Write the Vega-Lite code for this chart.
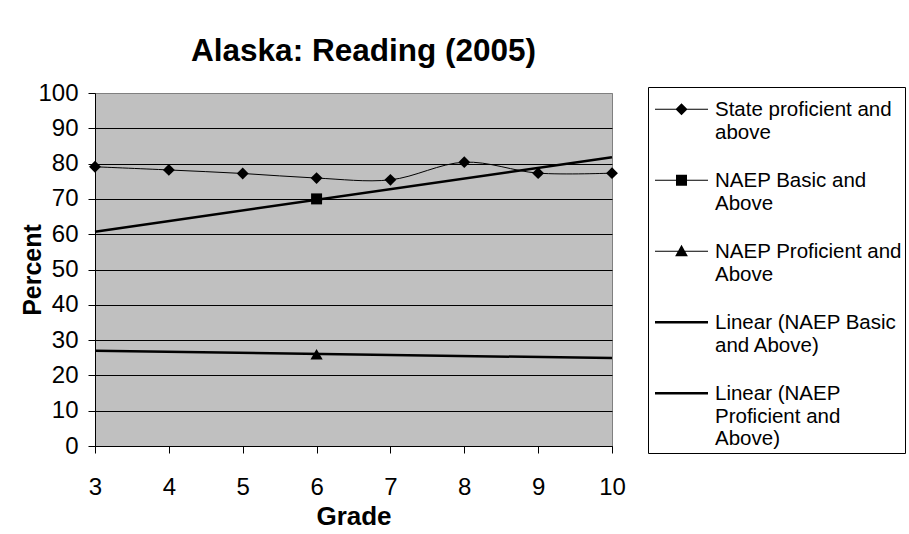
{
  "$schema": "https://vega.github.io/schema/vega-lite/v6.json",
  "width": 517,
  "height": 353,
  "autosize": {"type": "none"},
  "padding": {"left": 95, "top": 93, "right": 297, "bottom": 88},
  "background": "white",
  "title": {
    "text": "Alaska: Reading (2005)",
    "anchor": "middle",
    "frame": "group",
    "dx": 10,
    "offset": -11,
    "baseline": "alphabetic",
    "font": "Liberation Sans",
    "fontSize": 31.5,
    "fontWeight": "bold",
    "color": "black"
  },
  "config": {
    "view": {"fill": "#C0C0C0", "stroke": "#808080", "strokeWidth": 1},
    "axis": {
      "labelFont": "Liberation Sans",
      "labelFontSize": 24,
      "labelColor": "black",
      "titleFont": "Liberation Sans",
      "titleFontSize": 26,
      "titleFontWeight": "bold",
      "titleColor": "black",
      "domainColor": "black",
      "domainWidth": 1,
      "tickColor": "black",
      "tickSize": 7,
      "tickWidth": 1
    }
  },
  "data": {
    "values": [
      {"series": "State proficient and above", "grade": 3, "value": 79.1},
      {"series": "State proficient and above", "grade": 4, "value": 78.2},
      {"series": "State proficient and above", "grade": 5, "value": 77.2},
      {"series": "State proficient and above", "grade": 6, "value": 75.9},
      {"series": "State proficient and above", "grade": 7, "value": 75.4},
      {"series": "State proficient and above", "grade": 8, "value": 80.4},
      {"series": "State proficient and above", "grade": 9, "value": 77.3},
      {"series": "State proficient and above", "grade": 10, "value": 77.3},
      {"series": "NAEP Basic and Above", "grade": 6, "value": 70},
      {"series": "NAEP Proficient and Above", "grade": 6, "value": 26},
      {"series": "Linear (NAEP Basic and Above)", "grade": 3, "value": 60.7},
      {"series": "Linear (NAEP Basic and Above)", "grade": 10, "value": 81.8},
      {"series": "Linear (NAEP Proficient and Above)", "grade": 3, "value": 27.0},
      {"series": "Linear (NAEP Proficient and Above)", "grade": 10, "value": 24.9}
    ]
  },
  "encoding": {
    "x": {
      "field": "grade",
      "type": "quantitative",
      "scale": {"domain": [3, 10], "nice": false, "zero": false},
      "axis": {
        "title": "Grade",
        "values": [3, 4, 5, 6, 7, 8, 9, 10],
        "format": "d",
        "grid": false,
        "labelPadding": 22,
        "titlePadding": 4,
        "labelFlush": false
      }
    },
    "y": {
      "field": "value",
      "type": "quantitative",
      "scale": {"domain": [0, 100], "nice": false},
      "axis": {
        "title": "Percent",
        "values": [0, 10, 20, 30, 40, 50, 60, 70, 80, 90, 100],
        "grid": true,
        "gridColor": {"condition": {"test": "datum.value === 100", "value": "#808080"}, "value": "black"},
        "gridWidth": 1,
        "labelPadding": 10,
        "titleFontSize": 25,
        "titleX": -63,
        "titleY": 176.5,
        "titleAngle": 270,
        "titleAlign": "center",
        "titleBaseline": "middle"
      }
    }
  },
  "layer": [
    {
      "transform": [{"filter": "indexof(datum.series, 'Linear') === 0"}],
      "mark": {"type": "line", "color": "black", "strokeWidth": 2.5},
      "encoding": {"detail": {"field": "series"}}
    },
    {
      "transform": [{"filter": "datum.series === 'State proficient and above'"}],
      "mark": {"type": "line", "color": "black", "strokeWidth": 1, "interpolate": "catmull-rom"},
      "encoding": {}
    },
    {
      "transform": [{"filter": "datum.series === 'State proficient and above'"}],
      "mark": {"type": "point", "shape": "diamond", "filled": true, "color": "black", "opacity": 1, "size": 140},
      "encoding": {}
    },
    {
      "transform": [{"filter": "datum.series === 'NAEP Basic and Above'"}],
      "mark": {"type": "point", "shape": "square", "filled": true, "color": "black", "opacity": 1, "size": 121},
      "encoding": {}
    },
    {
      "transform": [{"filter": "datum.series === 'NAEP Proficient and Above'"}],
      "mark": {"type": "point", "shape": "triangle-up", "filled": true, "color": "black", "opacity": 1, "size": 150},
      "encoding": {}
    },
    {
      "mark": {"type": "point", "filled": true, "color": "black", "opacity": 0, "size": 16},
      "encoding": {
        "shape": {
          "field": "series",
          "type": "nominal",
          "scale": {
            "domain": [
              "State proficient and above",
              "NAEP Basic and Above",
              "NAEP Proficient and Above",
              "Linear (NAEP Basic and Above)",
              "Linear (NAEP Proficient and Above)"
            ],
            "range": [
              "M-13.25,4.2H13.25V4.7H-13.25ZM0,1.45L3,4.45L0,7.45L-3,4.45Z",
              "M-13.25,4.2H13.25V4.7H-13.25ZM-2.75,1.7H2.75V7.2H-2.75Z",
              "M-13.25,4.2H13.25V4.7H-13.25ZM0,1.25L3.2,7.05H-3.2Z",
              "M-13.25,3.83H13.25V5.07H-13.25Z",
              "M-13.25,3.83H13.25V5.07H-13.25Z"
            ]
          },
          "legend": {
            "orient": "none",
            "legendX": 553,
            "legendY": -6,
            "title": null,
            "strokeColor": "black",
            "fillColor": "white",
            "padding": 3,
            "rowPadding": 17,
            "labelFont": "Liberation Sans",
            "labelFontSize": 20.5,
            "labelColor": "black",
            "labelLimit": 400,
            "labelOffset": 23.25,
            "symbolOffset": 20.25,
            "labelBaseline": "top",
            "symbolSize": 16,
            "symbolFillColor": "black",
            "symbolStrokeColor": "black",
            "symbolStrokeWidth": 0,
            "symbolOpacity": 1,
            "labelExpr": "datum.label === 'State proficient and above' ? ['State proficient and', 'above'] : datum.label === 'NAEP Basic and Above' ? ['NAEP Basic and', 'Above'] : datum.label === 'NAEP Proficient and Above' ? ['NAEP Proficient and', 'Above'] : datum.label === 'Linear (NAEP Basic and Above)' ? ['Linear (NAEP Basic', 'and Above)'] : ['Linear (NAEP', 'Proficient and', 'Above)']"
          }
        }
      }
    }
  ]
}
